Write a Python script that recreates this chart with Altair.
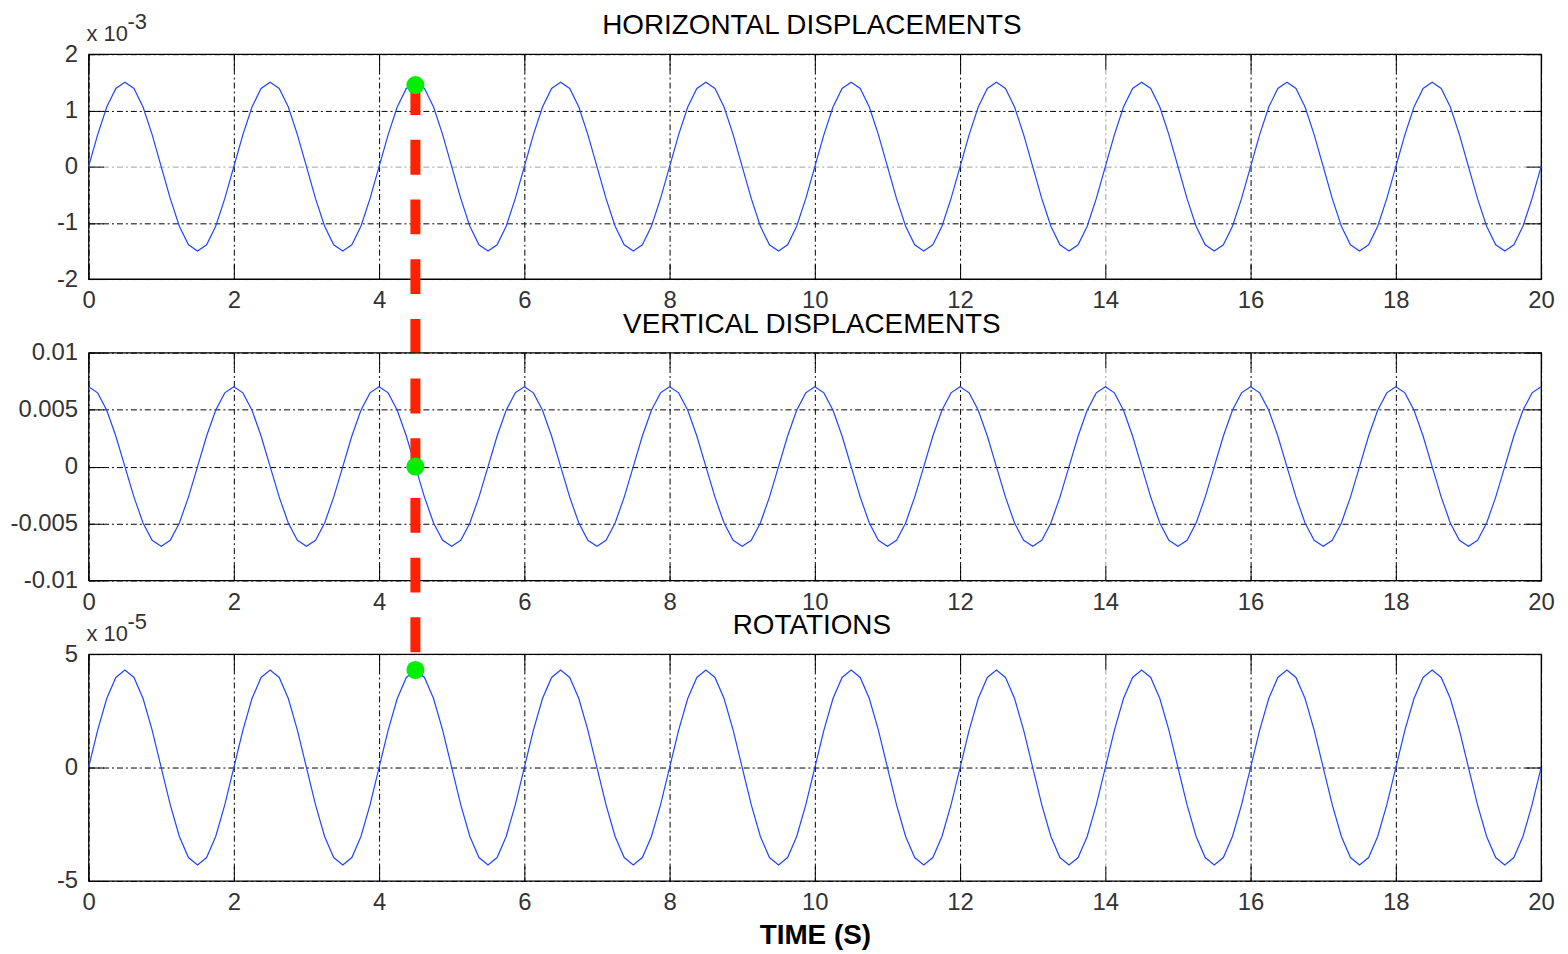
import altair as alt
import pandas as pd

# ---------------- data ----------------
TIME_STEP = 0.125  # s, sampling of the curves

# horizontal displacement, units of 1e-3
HORIZ = [
    0.00, 0.57, 1.06, 1.39, 1.50, 1.39, 1.06, 0.57, 0.00, -0.57, -1.06, -1.39, -1.50, -1.39, -1.06, -0.57,
    0.00, 0.57, 1.06, 1.39, 1.50, 1.39, 1.06, 0.57, 0.00, -0.57, -1.06, -1.39, -1.50, -1.39, -1.06, -0.57,
    0.00, 0.57, 1.06, 1.39, 1.50, 1.39, 1.06, 0.57, 0.00, -0.57, -1.06, -1.39, -1.50, -1.39, -1.06, -0.57,
    0.00, 0.57, 1.06, 1.39, 1.50, 1.39, 1.06, 0.57, 0.00, -0.57, -1.06, -1.39, -1.50, -1.39, -1.06, -0.57,
    0.00, 0.57, 1.06, 1.39, 1.50, 1.39, 1.06, 0.57, 0.00, -0.57, -1.06, -1.39, -1.50, -1.39, -1.06, -0.57,
    0.00, 0.57, 1.06, 1.39, 1.50, 1.39, 1.06, 0.57, 0.00, -0.57, -1.06, -1.39, -1.50, -1.39, -1.06, -0.57,
    0.00, 0.57, 1.06, 1.39, 1.50, 1.39, 1.06, 0.57, 0.00, -0.57, -1.06, -1.39, -1.50, -1.39, -1.06, -0.57,
    0.00, 0.57, 1.06, 1.39, 1.50, 1.39, 1.06, 0.57, 0.00, -0.57, -1.06, -1.39, -1.50, -1.39, -1.06, -0.57,
    0.00, 0.57, 1.06, 1.39, 1.50, 1.39, 1.06, 0.57, 0.00, -0.57, -1.06, -1.39, -1.50, -1.39, -1.06, -0.57,
    0.00, 0.57, 1.06, 1.39, 1.50, 1.39, 1.06, 0.57, 0.00, -0.57, -1.06, -1.39, -1.50, -1.39, -1.06, -0.57,
    0.00,
]

# vertical displacement (plain units)
VERT = [
    0.0070, 0.00647, 0.00495, 0.00268, 0.0, -0.00268, -0.00495, -0.00647, -0.0070, -0.00647, -0.00495, -0.00268, 0.0, 0.00268, 0.00495, 0.00647,
    0.0070, 0.00647, 0.00495, 0.00268, 0.0, -0.00268, -0.00495, -0.00647, -0.0070, -0.00647, -0.00495, -0.00268, 0.0, 0.00268, 0.00495, 0.00647,
    0.0070, 0.00647, 0.00495, 0.00268, 0.0, -0.00268, -0.00495, -0.00647, -0.0070, -0.00647, -0.00495, -0.00268, 0.0, 0.00268, 0.00495, 0.00647,
    0.0070, 0.00647, 0.00495, 0.00268, 0.0, -0.00268, -0.00495, -0.00647, -0.0070, -0.00647, -0.00495, -0.00268, 0.0, 0.00268, 0.00495, 0.00647,
    0.0070, 0.00647, 0.00495, 0.00268, 0.0, -0.00268, -0.00495, -0.00647, -0.0070, -0.00647, -0.00495, -0.00268, 0.0, 0.00268, 0.00495, 0.00647,
    0.0070, 0.00647, 0.00495, 0.00268, 0.0, -0.00268, -0.00495, -0.00647, -0.0070, -0.00647, -0.00495, -0.00268, 0.0, 0.00268, 0.00495, 0.00647,
    0.0070, 0.00647, 0.00495, 0.00268, 0.0, -0.00268, -0.00495, -0.00647, -0.0070, -0.00647, -0.00495, -0.00268, 0.0, 0.00268, 0.00495, 0.00647,
    0.0070, 0.00647, 0.00495, 0.00268, 0.0, -0.00268, -0.00495, -0.00647, -0.0070, -0.00647, -0.00495, -0.00268, 0.0, 0.00268, 0.00495, 0.00647,
    0.0070, 0.00647, 0.00495, 0.00268, 0.0, -0.00268, -0.00495, -0.00647, -0.0070, -0.00647, -0.00495, -0.00268, 0.0, 0.00268, 0.00495, 0.00647,
    0.0070, 0.00647, 0.00495, 0.00268, 0.0, -0.00268, -0.00495, -0.00647, -0.0070, -0.00647, -0.00495, -0.00268, 0.0, 0.00268, 0.00495, 0.00647,
    0.0070,
]

# rotations, units of 1e-5
ROT = [
    0.00, 1.65, 3.04, 3.97, 4.30, 3.97, 3.04, 1.65, 0.00, -1.65, -3.04, -3.97, -4.30, -3.97, -3.04, -1.65,
    0.00, 1.65, 3.04, 3.97, 4.30, 3.97, 3.04, 1.65, 0.00, -1.65, -3.04, -3.97, -4.30, -3.97, -3.04, -1.65,
    0.00, 1.65, 3.04, 3.97, 4.30, 3.97, 3.04, 1.65, 0.00, -1.65, -3.04, -3.97, -4.30, -3.97, -3.04, -1.65,
    0.00, 1.65, 3.04, 3.97, 4.30, 3.97, 3.04, 1.65, 0.00, -1.65, -3.04, -3.97, -4.30, -3.97, -3.04, -1.65,
    0.00, 1.65, 3.04, 3.97, 4.30, 3.97, 3.04, 1.65, 0.00, -1.65, -3.04, -3.97, -4.30, -3.97, -3.04, -1.65,
    0.00, 1.65, 3.04, 3.97, 4.30, 3.97, 3.04, 1.65, 0.00, -1.65, -3.04, -3.97, -4.30, -3.97, -3.04, -1.65,
    0.00, 1.65, 3.04, 3.97, 4.30, 3.97, 3.04, 1.65, 0.00, -1.65, -3.04, -3.97, -4.30, -3.97, -3.04, -1.65,
    0.00, 1.65, 3.04, 3.97, 4.30, 3.97, 3.04, 1.65, 0.00, -1.65, -3.04, -3.97, -4.30, -3.97, -3.04, -1.65,
    0.00, 1.65, 3.04, 3.97, 4.30, 3.97, 3.04, 1.65, 0.00, -1.65, -3.04, -3.97, -4.30, -3.97, -3.04, -1.65,
    0.00, 1.65, 3.04, 3.97, 4.30, 3.97, 3.04, 1.65, 0.00, -1.65, -3.04, -3.97, -4.30, -3.97, -3.04, -1.65,
    0.00,
]

# highlighted instant and values at it
MARK_T = 4.5
MARK_H = 1.45
MARK_V = 0.0
MARK_R = 4.3

X_TICKS = [0, 2, 4, 6, 8, 10, 12, 14, 16, 18, 20]
H_TICKS = [-2, -1, 0, 1, 2]
V_TICKS = [-0.01, -0.005, 0, 0.005, 0.01]
R_TICKS = [-5, 0, 5]

TITLES = ["HORIZONTAL DISPLACEMENTS", "VERTICAL DISPLACEMENTS", "ROTATIONS"]
X_TITLE = "TIME (S)"

# ---------------- styling ----------------
FONT = "Liberation Sans"
W = 1460
HEIGHTS = [226, 229, 228]
GAP = 74
BLUE = "#1f45ff"
RED = "#ff2200"
GREEN = "#00ee00"
DASH = [35, 25]
TICK = 15
GRID_DASH = [6, 3, 2, 3]

times = [i * TIME_STEP for i in range(len(HORIZ))]


def grid_color(gray_value):
    test = "datum.value === 14"
    if gray_value is not None:
        test = "datum.value === 14 || datum.value === %s" % gray_value
    return {"condition": {"test": test, "value": "#a0a0a0"}, "value": "black"}


def panel(values, domain, yticks, height, title, exponent=None, zero_gray=False,
          x_title="", mark_value=None, red=None):
    df = pd.DataFrame({"t": times, "v": values})
    xs = alt.Scale(domain=[0, 20], nice=False, zero=False)
    ys = alt.Scale(domain=domain, nice=False, zero=False)

    line = alt.Chart(df).mark_line(color=BLUE, strokeWidth=1.2).encode(
        x=alt.X("t:Q", scale=xs, axis=alt.Axis(
            values=X_TICKS, orient="bottom", offset=-TICK, tickSize=TICK,
            tickColor="black", tickWidth=1, domain=False, grid=True,
            gridColor=grid_color(None), gridDash=GRID_DASH, gridWidth=1,
            labelPadding=10, labelFlush=False, labelOverlap=False,
            labelFontSize=24, labelColor="#333333", labelFont=FONT,
            title=x_title, titleFont=FONT, titleFontSize=28,
            titleFontWeight="bold", titleColor="black", titlePadding=7)),
        y=alt.Y("v:Q", scale=ys, axis=alt.Axis(
            values=yticks, orient="left", offset=-TICK, tickSize=TICK,
            tickColor="black", tickWidth=1, domain=False, grid=True,
            gridColor=grid_color(0 if zero_gray else None),
            gridDash=GRID_DASH, gridWidth=1, labelPadding=11,
            labelFlush=False, labelOverlap=False, labelExpr="datum.value + ''",
            labelFontSize=24, labelColor="#333333", labelFont=FONT, title="")),
    )
    ticks = alt.Chart(df).mark_line(opacity=0).encode(
        x=alt.X("t:Q", scale=xs, axis=alt.Axis(
            values=X_TICKS, orient="top", offset=-TICK, tickSize=TICK,
            tickColor="black", domain=False, grid=False, labels=False, title="")),
        y=alt.Y("v:Q", scale=ys, axis=alt.Axis(
            values=yticks, orient="right", offset=-TICK, tickSize=TICK,
            tickColor="black", domain=False, grid=False, labels=False, title="")),
    )
    layers = [line, ticks]

    pt = pd.DataFrame({"t": [MARK_T], "v": [mark_value]})
    if red == "from_point":
        layers.append(alt.Chart(pt).mark_rule(
            color=RED, strokeWidth=10, strokeDash=DASH, strokeDashOffset=5).encode(
            x=alt.X("t:Q", scale=xs, axis=None),
            y=alt.Y("v:Q", scale=ys, axis=None),
            y2=alt.value(height + GAP)))
    elif red is not None:
        layers.append(alt.Chart(pt).mark_rule(
            color=RED, strokeWidth=10, strokeDash=DASH, strokeDashOffset=red).encode(
            x=alt.X("t:Q", scale=xs, axis=None),
            y=alt.value(0),
            y2=alt.value(height + GAP)))
    layers.append(alt.Chart(pt).mark_circle(size=330, color=GREEN, opacity=1).encode(
        x=alt.X("t:Q", scale=xs, axis=None),
        y=alt.Y("v:Q", scale=ys, axis=None)))

    layers.append(alt.Chart(pd.DataFrame({"label": [title]})).mark_text(
        font=FONT, fontSize=28, align="center", baseline="middle", color="black").encode(
        x=alt.value(W / 2 - 3), y=alt.value(-28), text="label:N"))
    if exponent is not None:
        layers.append(alt.Chart(pd.DataFrame({"label": ["x 10"]})).mark_text(
            font=FONT, fontSize=22, align="left", baseline="middle", color="#333333").encode(
            x=alt.value(-2), y=alt.value(-20), text="label:N"))
        layers.append(alt.Chart(pd.DataFrame({"label": [exponent]})).mark_text(
            font=FONT, fontSize=22, align="left", baseline="middle", color="#333333").encode(
            x=alt.value(39), y=alt.value(-32), text="label:N"))

    return alt.layer(*layers).resolve_axis(x="independent", y="independent").properties(
        width=W, height=height)


# dash phase continuity for the red connector
p1 = (2 - MARK_H) / 4 * HEIGHTS[0]
phase2 = (5 + (HEIGHTS[0] + GAP - p1)) % sum(DASH)

c1 = panel(HORIZ, [-2, 2], H_TICKS, HEIGHTS[0], TITLES[0], exponent="-3",
           zero_gray=True, mark_value=MARK_H, red="from_point")
c2 = panel(VERT, [-0.01, 0.01], V_TICKS, HEIGHTS[1], TITLES[1],
           mark_value=MARK_V, red=phase2)
c3 = panel(ROT, [-5, 5], R_TICKS, HEIGHTS[2], TITLES[2], exponent="-5",
           x_title=X_TITLE, mark_value=MARK_R)

chart = alt.vconcat(c1, c2, c3, spacing=GAP, bounds="flush").properties(
    padding={"left": 1, "top": 0, "right": 5, "bottom": 2},
    background="white",
).configure_view(stroke="black", strokeWidth=1.3)

chart.save("out.html", embed_options={"renderer": "svg", "actions": False})
